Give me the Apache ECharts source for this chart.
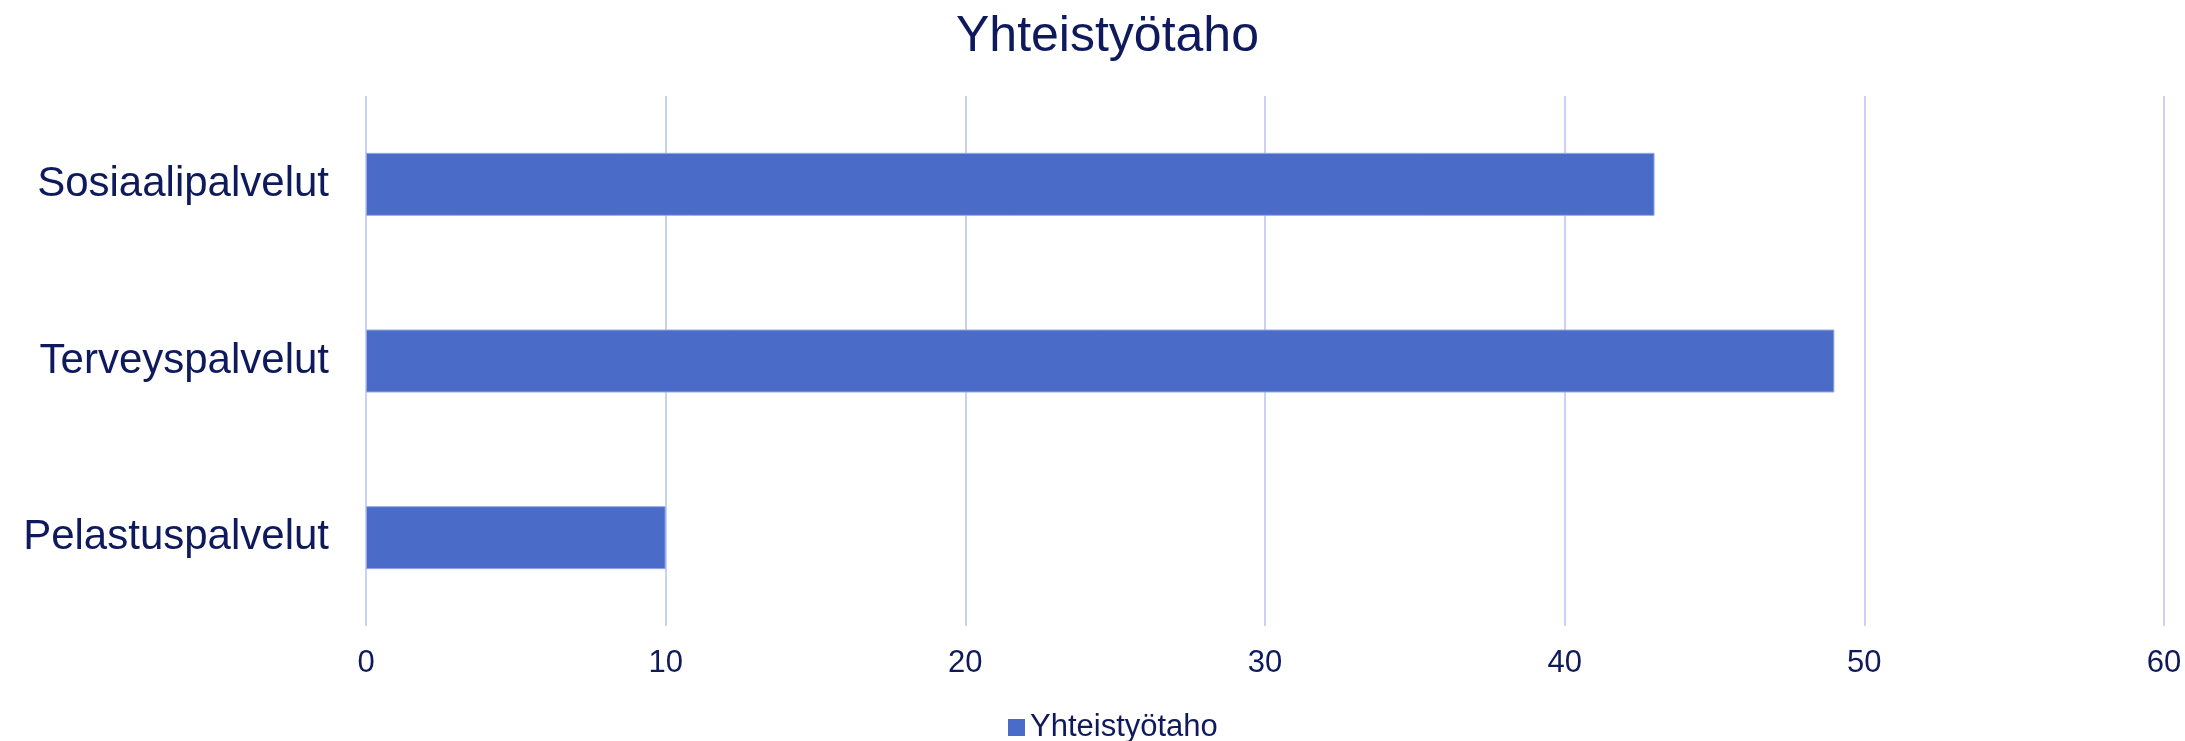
<!DOCTYPE html>
<html lang="fi">
<head>
    <meta charset="UTF-8">
    <title>Yhteistyötaho</title>
    <script src="https://cdn.jsdelivr.net/npm/echarts@6/dist/echarts.min.js"></script>
    <style>
        html, body { margin: 0; padding: 0; background: #fff; }
        #container { width: 2185px; height: 741px; }
    </style>
</head>
<body>
<div id="container"></div>
<script type="text/javascript">
    // data
    var categories = ['Sosiaalipalvelut', 'Terveyspalvelut', 'Pelastuspalvelut'];
    var values = [43, 49, 10];
    var seriesName = 'Yhteistyötaho';
    var tickMin = 0, tickMax = 60, tickStep = 10;

    var navy = '#0E1A5C';
    var font = '"Liberation Sans", Arial, sans-serif';

    var myChart = echarts.init(document.getElementById('container'));
    var option = {
        animation: false,
        title: {
            text: 'Yhteistyötaho',
            left: 951,
            top: 7,
            textStyle: { color: navy, fontSize: 50, fontWeight: 'normal', fontFamily: font }
        },
        legend: {
            data: [seriesName],
            left: 1003,
            top: 707,
            itemWidth: 17,
            itemHeight: 17,
            icon: 'rect',
            itemStyle: { borderWidth: 0 },
            textStyle: { color: navy, fontSize: 31, fontFamily: font }
        },
        grid: {
            left: 366,
            right: 21,
            top: 96,
            height: 530,
            containLabel: false
        },
        xAxis: {
            type: 'value',
            min: tickMin,
            max: tickMax,
            interval: tickStep,
            axisLine: { show: false },
            axisTick: { show: false },
            splitLine: { show: true, lineStyle: { color: '#C8D2F6', width: 2 } },
            axisLabel: { color: navy, fontSize: 31, fontFamily: font, margin: 22 }
        },
        yAxis: {
            type: 'category',
            data: categories,
            inverse: true,
            axisLine: { show: false },
            axisTick: { show: false },
            axisLabel: { color: navy, fontSize: 42, fontFamily: font, margin: 37 }
        },
        series: [{
            name: seriesName,
            type: 'bar',
            data: values,
            barWidth: 63,
            itemStyle: { color: '#4A6CC8', borderColor: '#94A8E6', borderWidth: 1 }
        }]
    };
    myChart.setOption(option);
</script>
</body>
</html>
